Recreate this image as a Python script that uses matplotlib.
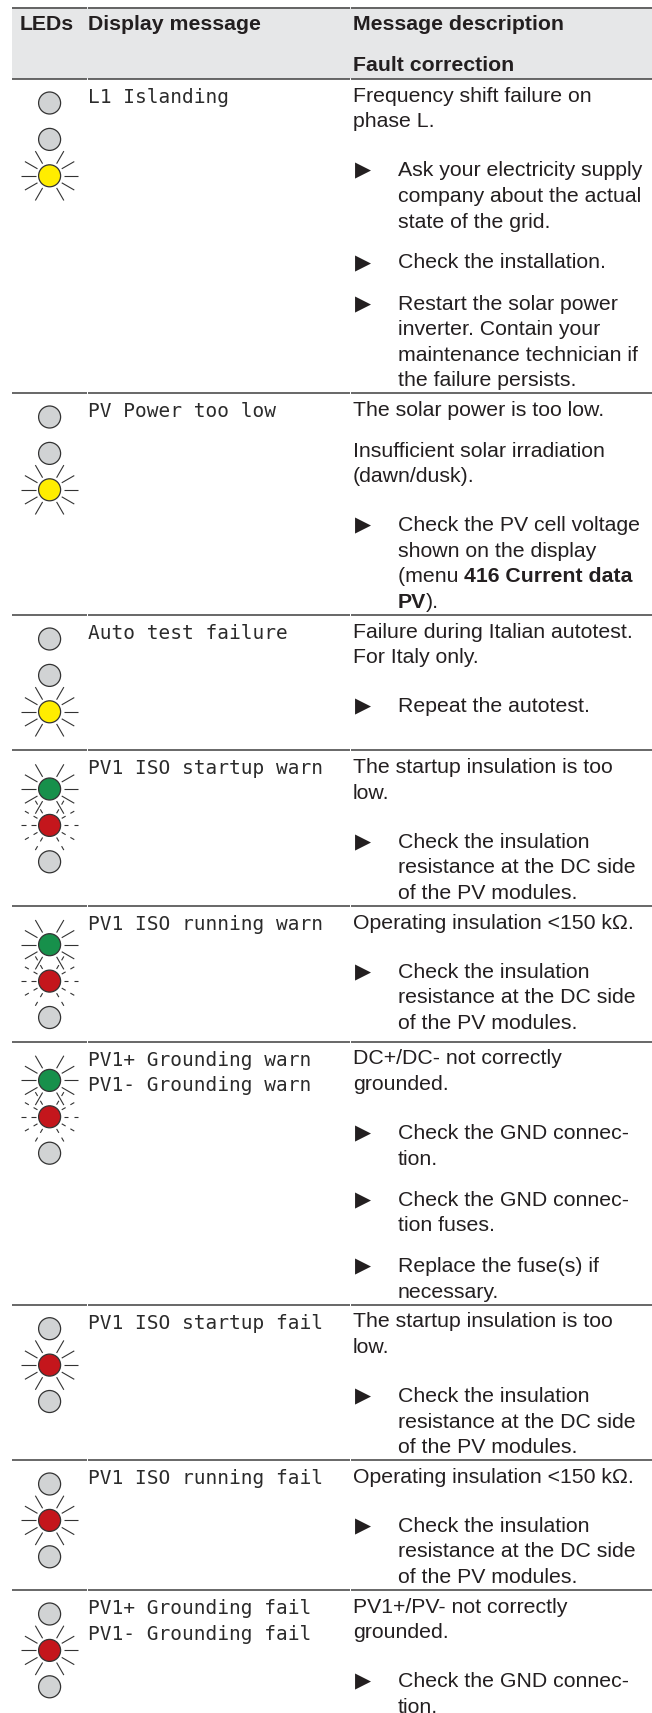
import numpy as np
import matplotlib
matplotlib.use('Agg')
import matplotlib.pyplot as plt
from matplotlib.patches import Circle, Rectangle

plt.rcParams['font.family'] = ['Liberation Sans', 'DejaVu Sans']

# table content
header_left = ['LEDs', 'Display message']
header_right = ['Message description', 'Fault correction']

row_edges = [79, 393, 615, 750.3, 906, 1041.7, 1304.7, 1460, 1590]

row_leds = [
    ['off', 'off', 'yellow'],
    ['off', 'off', 'yellow'],
    ['off', 'off', 'yellow'],
    ['green', 'red_flash', 'off'],
    ['green', 'red_flash', 'off'],
    ['green', 'red_flash', 'off'],
    ['off', 'red', 'off'],
    ['off', 'red', 'off'],
    ['off', 'red', 'off'],
]

row_messages = [
    ['L1 Islanding'],
    ['PV Power too low'],
    ['Auto test failure'],
    ['PV1 ISO startup warn'],
    ['PV1 ISO running warn'],
    ['PV1+ Grounding warn', 'PV1- Grounding warn'],
    ['PV1 ISO startup fail'],
    ['PV1 ISO running fail'],
    ['PV1+ Grounding fail', 'PV1- Grounding fail'],
]

row_descriptions = [
    [['Frequency shift failure on', 'phase L.']],
    [['The solar power is too low.'],
     ['Insufficient solar irradiation', '(dawn/dusk).']],
    [['Failure during Italian autotest.', 'For Italy only.']],
    [['The startup insulation is too', 'low.']],
    [['Operating insulation <150 kΩ.']],
    [['DC+/DC- not correctly', 'grounded.']],
    [['The startup insulation is too', 'low.']],
    [['Operating insulation <150 kΩ.']],
    [['PV1+/PV- not correctly', 'grounded.']],
]

insulation_fix = [['Check the insulation', 'resistance at the DC side', 'of the PV modules.']]
row_fixes = [
    [['Ask your electricity supply', 'company about the actual', 'state of the grid.'],
     ['Check the installation.'],
     ['Restart the solar power', 'inverter. Contain your', 'maintenance technician if', 'the failure persists.']],
    [['Check the PV cell voltage', 'shown on the display', '(menu **416 Current data', '**PV**).']],
    [['Repeat the autotest.']],
    insulation_fix,
    insulation_fix,
    [['Check the GND connec-', 'tion.'],
     ['Check the GND connec-', 'tion fuses.'],
     ['Replace the fuse(s) if', 'necessary.']],
    insulation_fix,
    insulation_fix,
    [['Check the GND connec-', 'tion.']],
]

led_colors = {'off': '#d1d3d4', 'yellow': '#ffed00', 'green': '#17904b',
              'red': '#c4161c', 'red_flash': '#c4161c'}

TEXT = '#231f20'
LINE = '#3f3f3f'
BODY_SIZE = 15.3
MONO_SIZE = 14.0

fig = plt.figure(figsize=(6.52, 17.13), dpi=100)
ax = fig.add_axes([0, 0, 1, 1])
ax.set_xlim(0, 652)
ax.set_ylim(1713, 0)
ax.axis('off')


def hline(y, lw=1.0):
    # the rules have small breaks at the column edges
    for x0, x1 in [(12, 87.2), (87.8, 350.2), (350.8, 652)]:
        ax.plot([x0, x1], [y, y], color=LINE, lw=lw, solid_capstyle='butt')


def draw_rays(cx, cy, dashed):
    for angle in [-60, -30, 0, 30, 60, 120, 150, 180, 210, 240]:
        dx, dy = np.cos(np.radians(angle)), np.sin(np.radians(angle))
        parts = [(14, 18.5), (24, 28.5)] if dashed else [(14, 28.5)]
        for r0, r1 in parts:
            ax.plot([cx + r0 * dx, cx + r1 * dx], [cy + r0 * dy, cy + r1 * dy],
                    color='#333333', lw=0.8, solid_capstyle='butt', zorder=2)


def draw_line(x, y, line):
    # **...** switches to bold inside a line
    renderer = fig.canvas.get_renderer()
    for i, piece in enumerate(line.split('**')):
        if not piece:
            continue
        t = ax.text(x, y, piece, fontsize=BODY_SIZE, color=TEXT, va='baseline',
                    fontweight='bold' if i % 2 else 'normal')
        x = t.get_window_extent(renderer).x1


# header
ax.add_patch(Rectangle((12, 7), 640, 72, facecolor='#e6e7e8', edgecolor='none', zorder=0))
ax.text(20, 30, header_left[0], fontsize=BODY_SIZE, fontweight='bold', color=TEXT)
ax.text(88, 30, header_left[1], fontsize=BODY_SIZE, fontweight='bold', color=TEXT)
ax.text(353, 30, header_right[0], fontsize=BODY_SIZE, fontweight='bold', color=TEXT)
ax.text(353, 71, header_right[1], fontsize=BODY_SIZE, fontweight='bold', color=TEXT)
hline(7.5, 1.1)

for top in row_edges:
    hline(top, 1.1)

for top, leds, messages, desc, fixes in zip(row_edges, row_leds, row_messages,
                                             row_descriptions, row_fixes):
    # LED column, pushed down when the top LED has rays
    first = top + (38.7 if leds[0] != 'off' else 24)
    for k, state in enumerate(leds):
        cy = first + k * 36.4
        if state != 'off':
            draw_rays(49.6, cy, state == 'red_flash')
        ax.add_patch(Circle((49.6, cy), 11, facecolor=led_colors[state],
                            edgecolor='#333333', lw=0.9, zorder=3))

    # display message
    for k, message in enumerate(messages):
        ax.text(88, top + 24 + k * 25.7, message, fontsize=MONO_SIZE, color='#2b2b2b',
                family='DejaVu Sans Mono', va='baseline')

    # description and fault correction flow down the right column
    y = top + 22.7
    for i, para in enumerate(desc):
        if i:
            y += 41 - 25.6
        for line in para:
            draw_line(353, y, line)
            y += 25.6
    y += 49 - 25.6
    for i, para in enumerate(fixes):
        if i:
            y += 41 - 25.6
        ax.text(354.5, y + 0.5, '▶', fontsize=15, color=TEXT, family='DejaVu Sans', va='baseline')
        for line in para:
            draw_line(398, y, line)
            y += 25.6

fig.savefig('out.png', dpi=100)
